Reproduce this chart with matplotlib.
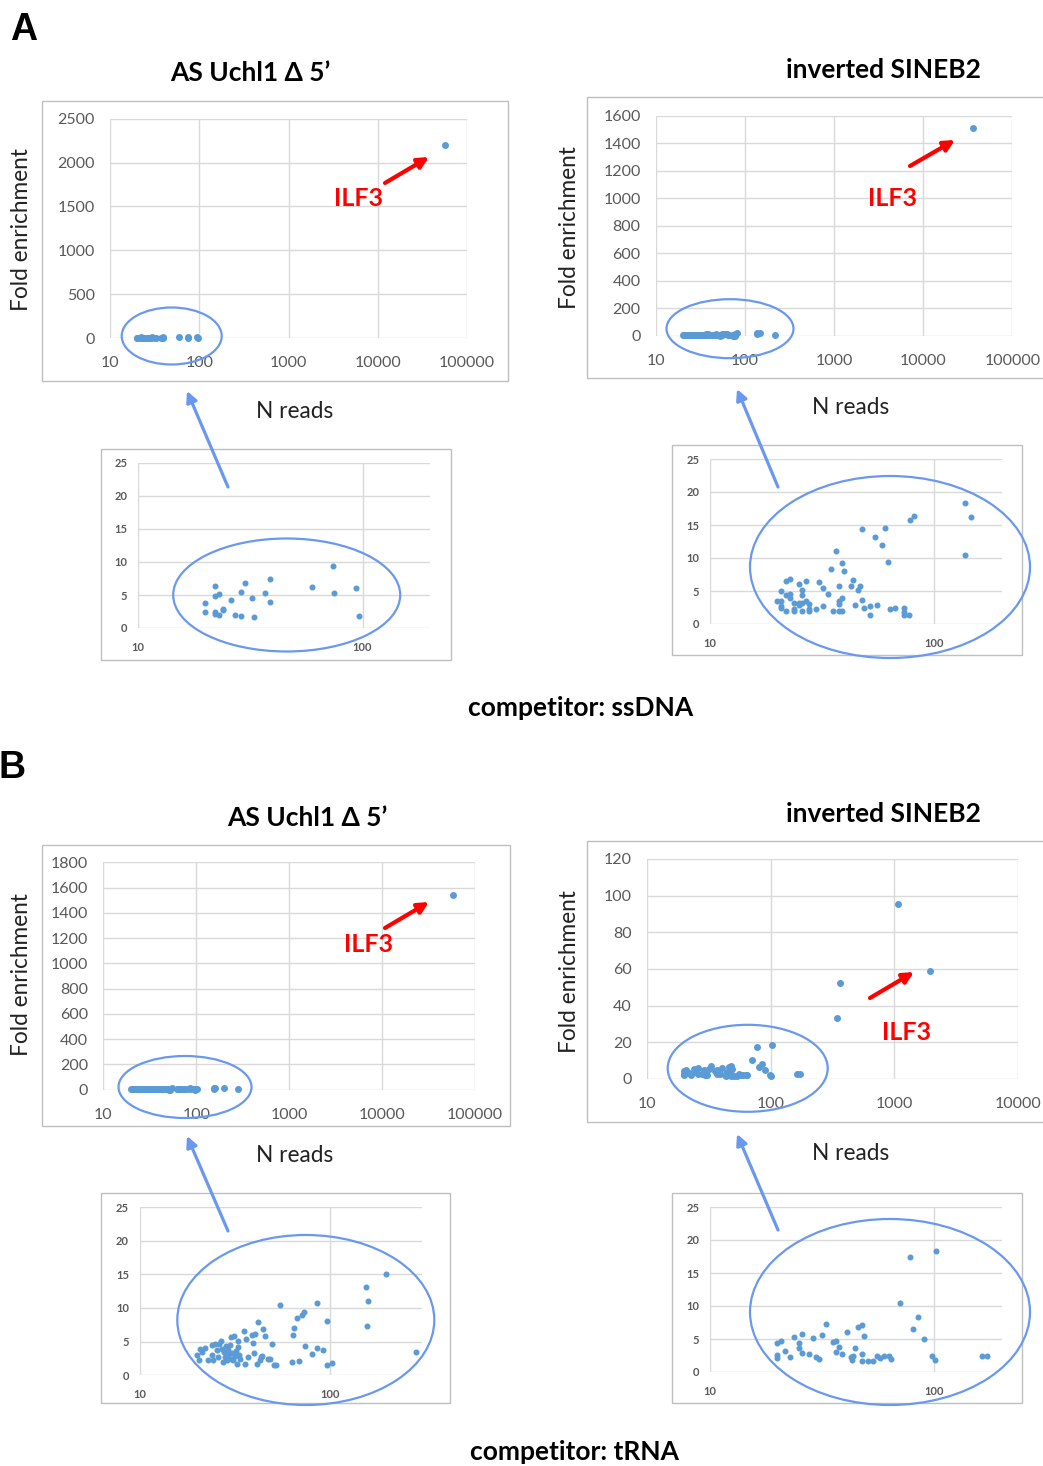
import matplotlib
matplotlib.use('Agg')
import matplotlib.pyplot as plt
from matplotlib.patches import Ellipse, Rectangle
from matplotlib.ticker import FixedLocator, NullLocator

# ---------------- data ----------------
# A: competitor ssDNA, AS Uchl1 delta 5'
readsA1 = [19.9, 19.9, 22.0, 22.0, 22.8, 22.0, 22.0, 22.8, 23.9, 23.9, 25.9, 26.9, 28.8, 28.8,
           29.9, 32.0, 32.9, 36.8, 38.8, 38.8, 59.8, 74.0, 75.0, 94.0, 96.0, 56000]
foldA1 = [3.8, 2.5, 6.3, 4.9, 5.2, 2.5, 2.1, 2.0, 2.9, 2.7, 4.2, 1.9, 5.5, 1.8,
          6.8, 4.5, 1.6, 5.3, 7.4, 4.0, 6.2, 9.4, 5.3, 6.0, 1.8, 2200]

# A: competitor ssDNA, inverted SINEB2
readsA2 = [19.9, 20.7, 20.7, 20.7, 20.7, 21.8, 22.6, 21.8, 22.6, 22.6, 21.8, 23.7, 23.7, 23.7,
           24.8, 24.8, 24.8, 25.8, 25.8, 25.8, 25.8, 26.8, 26.8, 27.7, 27.7, 27.7, 29.7, 30.6,
           31.7, 31.7, 33.7, 34.7, 35.4, 36.5, 37.7, 37.7, 37.7, 37.7, 38.6, 38.6, 38.6, 39.4,
           42.5, 43.5, 44.4, 45.5, 46.6, 47.5, 47.5, 48.7, 51.8, 51.8, 54.5, 55.5, 58.4, 60.4,
           62.1, 63.6, 66.5, 73.5, 73.5, 73.5, 76.8, 77.8, 81.4, 136.5, 137.4, 146.2, 215, 36500]
foldA2 = [3.5, 5.0, 3.5, 2.8, 2.4, 6.5, 6.8, 4.4, 4.5, 3.9, 2.0, 3.2, 2.3, 1.9,
          6.1, 3.2, 2.9, 5.2, 4.4, 3.2, 1.9, 6.5, 3.5, 3.0, 2.3, 1.9, 2.3, 6.3,
          5.5, 2.8, 4.5, 8.4, 1.9, 11.1, 5.7, 3.5, 3.0, 1.9, 9.3, 3.9, 2.0, 8.0,
          5.8, 6.6, 2.9, 5.1, 5.7, 14.4, 3.6, 2.4, 2.8, 1.4, 13.2, 2.9, 11.9, 14.6,
          9.4, 2.3, 2.5, 2.5, 1.8, 1.3, 1.3, 15.8, 16.4, 18.3, 10.4, 16.2, 3.0, 1508]

# B: competitor tRNA, AS Uchl1 delta 5'
readsB1 = [19.9, 20.5, 20.7, 21.1, 22.0, 22.9, 23.8, 24.0, 24.3, 24.8, 25.3, 25.8, 26.2, 26.6,
           26.9, 27.2, 27.7, 28.0, 28.4, 28.6, 28.9, 29.2, 29.8, 30.1, 30.3, 30.6, 31.0, 31.3,
           31.6, 32.0, 32.3, 32.7, 32.9, 33.3, 33.6, 35.2, 35.7, 36.1, 36.9, 38.7, 39.2, 39.8,
           40.5, 41.1, 42.0, 42.9, 43.4, 44.0, 44.6, 45.5, 47.3, 48.3, 49.3, 50.7, 51.8, 54.6,
           62.8, 64.1, 64.7, 66.8, 69.0, 71.0, 73.0, 73.8, 80.1, 85.2, 85.8, 92.2, 96.0, 96.0,
           102, 154, 156, 159, 197, 284, 58500]
foldB1 = [2.97, 2.23, 3.96, 3.47, 4.11, 2.23, 2.97, 4.46, 2.23, 4.70, 3.71, 2.72, 4.70, 5.05,
          3.96, 1.98, 3.47, 2.72, 4.36, 2.23, 3.07, 3.71, 4.46, 5.69, 2.48, 3.37, 2.23, 5.84,
          2.87, 3.56, 1.73, 4.21, 5.05, 2.97, 2.48, 6.53, 1.73, 5.45, 2.72, 5.94, 4.85, 3.37,
          6.19, 1.73, 7.92, 2.23, 2.72, 2.82, 6.83, 5.79, 2.48, 2.48, 4.70, 1.49, 1.58, 10.5,
          1.98, 6.04, 7.03, 8.51, 2.08, 9.0, 9.4, 4.36, 3.12, 10.8, 4.06, 3.71, 8.07, 1.49,
          1.88, 13.1, 7.33, 11.0, 15.1, 3.47, 1539]

# B: competitor tRNA, inverted SINEB2
readsB2 = [19.9, 19.9, 19.9, 20.7, 21.6, 22.6, 23.7, 24.8, 24.8, 25.8, 25.8, 27.7, 28.6, 29.5,
           30.5, 31.5, 32.7, 35.4, 36.5, 36.5, 37.4, 38.7, 40.6, 42.6, 43.0, 43.3, 44.4, 45.5,
           47.5, 47.5, 47.5, 48.4, 50.8, 53.2, 55.5, 57.4, 59.6, 62.5, 64.1, 70.3, 77.9, 80.0,
           84.3, 90.2, 97.7, 100.3, 102.1, 163.3, 171.8, 346, 364, 1067, 1950]
foldB2 = [4.44, 2.53, 2.17, 4.7, 3.23, 2.22, 5.3, 4.44, 3.7, 5.8, 2.9, 2.78, 5.15, 2.27,
          2.0, 5.66, 7.3, 4.55, 4.7, 3.0, 3.8, 2.68, 6.0, 2.27, 1.77, 2.5, 3.7, 6.77,
          7.07, 2.68, 1.67, 5.45, 1.62, 1.62, 2.5, 2.1, 2.4, 2.4, 2.0, 10.45, 17.4, 6.57,
          8.33, 5.05, 2.37, 1.87, 18.3, 2.5, 2.5, 33.5, 52.5, 95.3, 59.1]

main_xticks_5 = [10, 100, 1000, 10000, 100000]
main_xticks_4 = [10, 100, 1000, 10000]
yticks_A1 = [0, 500, 1000, 1500, 2000, 2500]
yticks_A2 = [0, 200, 400, 600, 800, 1000, 1200, 1400, 1600]
yticks_B1 = [0, 200, 400, 600, 800, 1000, 1200, 1400, 1600, 1800]
yticks_B2 = [0, 20, 40, 60, 80, 100, 120]
inset_yticks = [0, 5, 10, 15, 20, 25]
inset_xticks = [10, 100]

# ---------------- figure ----------------
W, H = 1043, 1466
plt.rcParams['font.family'] = ['Lato', 'DejaVu Sans']
fig = plt.figure(figsize=(W / 100, H / 100), dpi=100)

BLUE = '#5B9BD5'
GRID = '#D9D9D9'
TICK = '#595959'
ELL = '#6A98F0'
FRAME = '#BFBFBF'


def ax_at(x0, y0, x1, y1):
    return fig.add_axes([x0 / W, 1 - y1 / H, (x1 - x0) / W, (y1 - y0) / H])


def style(ax, xlim, ylim, xt, yt, fs, padx, pady, bold=False):
    ax.set_xscale('log')
    ax.set_xlim(xlim)
    ax.set_ylim(ylim)
    ax.xaxis.set_major_locator(FixedLocator(xt))
    ax.xaxis.set_minor_locator(NullLocator())
    ax.set_xticklabels([str(v) for v in xt])
    ax.set_yticks(yt)
    ax.set_yticklabels([str(v) for v in yt])
    for s in ax.spines.values():
        s.set_visible(False)
    ax.grid(True, color=GRID, lw=1)
    ax.set_axisbelow(True)
    ax.tick_params(axis='both', length=0, labelsize=fs, colors=TICK)
    ax.tick_params(axis='x', pad=padx)
    ax.tick_params(axis='y', pad=pady)
    if bold:
        for lab in ax.get_xticklabels() + ax.get_yticklabels():
            lab.set_fontweight('bold')
    ax.patch.set_alpha(0)


# main plots
m1 = ax_at(110, 118.7, 467, 338)
style(m1, (10, 100000), (0, 2500), main_xticks_5, yticks_A1, 11.5, 13, 11)
m1.scatter(readsA1, foldA1, s=16, color=BLUE, zorder=3, clip_on=False)

m2 = ax_at(656, 115.7, 1012.3, 335.7)
style(m2, (10, 100000), (0, 1600), main_xticks_5, yticks_A2, 11.5, 13, 11)
m2.scatter(readsA2, foldA2, s=16, color=BLUE, zorder=3, clip_on=False)

m3 = ax_at(103.3, 862.3, 475, 1089.7)
style(m3, (10, 100000), (0, 1800), main_xticks_5, yticks_B1, 11.5, 13, 11)
m3.scatter(readsB1, foldB1, s=16, color=BLUE, zorder=3, clip_on=False)

m4 = ax_at(647.3, 859, 1017.7, 1079)
style(m4, (10, 10000), (0, 120), main_xticks_4, yticks_B2, 11.5, 13, 11)
m4.scatter(readsB2, foldB2, s=16, color=BLUE, zorder=3, clip_on=False)

# insets
i1 = ax_at(138.3, 463, 430, 628)
style(i1, (10, 200), (0, 25), inset_xticks, inset_yticks, 8, 10, 8, bold=True)
i1.scatter(readsA1, foldA1, s=11, color=BLUE, zorder=3)

i2 = ax_at(710.3, 459, 1001.7, 624)
style(i2, (10, 200), (0, 25), inset_xticks, inset_yticks, 8, 10, 8, bold=True)
i2.scatter(readsA2, foldA2, s=11, color=BLUE, zorder=3)

i3 = ax_at(140, 1207, 421.7, 1375.3)
style(i3, (10, 304), (0, 25), inset_xticks, inset_yticks, 8, 10, 8, bold=True)
i3.scatter(readsB1, foldB1, s=11, color=BLUE, zorder=3)

i4 = ax_at(710.3, 1207, 1001.7, 1372)
style(i4, (10, 200), (0, 25), inset_xticks, inset_yticks, 8, 10, 8, bold=True)
i4.scatter(readsB2, foldB2, s=11, color=BLUE, zorder=3)

# ---------------- overlay (annotations in pixel space) ----------------
ov = fig.add_axes([0, 0, 1, 1])
ov.set_xlim(0, W)
ov.set_ylim(H, 0)
ov.axis('off')

# chart frames
for (x0, y0, x1, y1) in [(42, 101, 508, 381), (587, 97, 1050, 378), (42, 845, 510, 1126),
                         (587, 841, 1050, 1122), (101, 449, 451, 660), (672, 445, 1022, 655),
                         (101, 1193, 450, 1403), (672, 1193, 1022, 1403)]:
    ov.add_patch(Rectangle((x0, y0), x1 - x0, y1 - y0, fill=False, ec=FRAME, lw=1))

# ellipses
for (cx, cy, w, h) in [(171.7, 336, 100, 57), (730, 328.7, 127, 59), (185, 1087, 133, 62),
                       (747.7, 1068.3, 160, 87), (286.7, 595, 227, 113), (890, 567, 280, 182),
                       (305.8, 1320, 257, 170), (890, 1312, 280, 186)]:
    ov.add_patch(Ellipse((cx, cy), w, h, fill=False, ec=ELL, lw=1.6))

# blue arrows from insets to main ellipses
for (tx, ty, hx, hy) in [(228, 487, 187, 391), (778, 487, 737, 389),
                         (228, 1231, 187, 1136), (778, 1230, 737, 1134)]:
    ov.annotate('', xy=(hx, hy), xytext=(tx, ty),
                arrowprops=dict(arrowstyle='-|>', color=ELL, lw=2.3, mutation_scale=16,
                                shrinkA=0, shrinkB=0))

# red arrows + ILF3
for (tx, ty, hx, hy, lx, ly) in [(385, 183, 429, 157, 358, 198), (910, 166, 955, 140, 893, 198),
                                 (385, 928, 429, 902, 368, 945), (870, 998, 914, 972, 906, 1033)]:
    ov.annotate('', xy=(hx, hy), xytext=(tx, ty),
                arrowprops=dict(arrowstyle='-|>', color='#FF0000', lw=3, mutation_scale=16,
                                shrinkA=0, shrinkB=0))
    ov.text(lx, ly, 'ILF3', color='#FF0000', fontsize=18, fontweight='bold',
            ha='center', va='center')

# axis labels
for (x, y) in [(22, 230), (570, 228), (22, 975), (570, 972)]:
    ov.text(x, y, 'Fold enrichment', rotation=90, fontsize=16.3, ha='center', va='center', color='#222222')
for (x, y) in [(295, 411), (851, 408), (295, 1156), (851, 1153)]:
    ov.text(x, y, 'N reads', fontsize=16.3, ha='center', va='center', color='#222222')

# titles
TFS = 19
ov.text(250, 73, 'AS Uchl1 Δ 5’', fontsize=TFS, fontweight='bold', ha='center', va='center')
ov.text(883, 70, 'inverted SINEB2', fontsize=TFS, fontweight='bold', ha='center', va='center')
ov.text(307, 818, 'AS Uchl1 Δ 5’', fontsize=TFS, fontweight='bold', ha='center', va='center')
ov.text(883, 814, 'inverted SINEB2', fontsize=TFS, fontweight='bold', ha='center', va='center')

ov.text(581, 708, 'competitor: ssDNA', fontsize=TFS, fontweight='bold', ha='center', va='center')
ov.text(574, 1452, 'competitor: tRNA', fontsize=TFS, fontweight='bold', ha='center', va='center')

ov.text(24, 30, 'A', fontsize=27, fontweight='bold', ha='center', va='center',
        family=['Liberation Sans', 'DejaVu Sans'])
ov.text(12, 768, 'B', fontsize=27, fontweight='bold', ha='center', va='center',
        family=['Liberation Sans', 'DejaVu Sans'])

fig.savefig('out.png', dpi=100)
